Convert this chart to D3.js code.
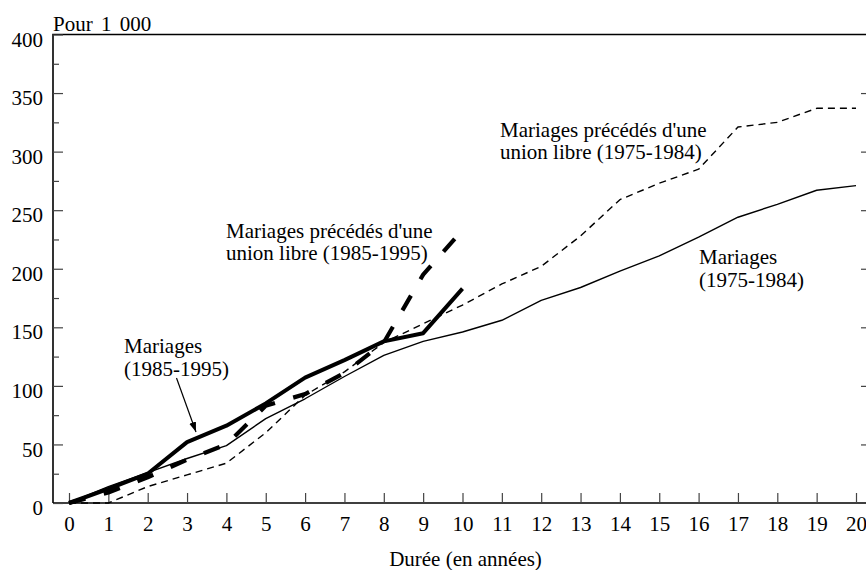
<!DOCTYPE html>
<html>
<head>
<meta charset="utf-8">
<script src="https://cdn.jsdelivr.net/npm/d3@7"></script>
<style>
  body { margin: 0; background: #fff; }
  svg { display: block; }
</style>
</head>
<body>
<svg id="chart" width="866" height="570"></svg>
<script>
// durations (years)
const durees = d3.range(0, 21);
const dureesRecent = d3.range(0, 11);

// values per 1 000
const mariages7584 = [0, 14, 26, 38, 49, 72, 89, 108, 126, 138, 146, 156, 173, 184, 198, 211, 227, 244, 255, 267, 271];
const unionLibre7584 = [0, 0, 14, 24, 34, 60, 92, 112, 137, 153, 169, 187, 202, 228, 259, 273, 285, 321, 325, 337, 337];
const mariages8595 = [0, 12, 25, 52, 66, 85, 107, 122, 138, 145, 183];
const unionLibre8595 = [0, 9, 22, 37, 50, 83, 93, 111, 137, 195, 233];

const yMajor = [0, 50, 100, 150, 200, 250, 300, 350, 400];
const yMinor = [25, 75, 125, 175, 225, 275, 325, 375];

let svg = d3.select("svg#chart");
let fontsize = 21;
let serif = "Liberation Serif, DejaVu Serif, serif";

let plotLeft = 53, plotRight = 867, plotTop = 34.5, plotBottom = 503;

let xScale = d3.scaleLinear().domain([0, 20]).range([69, 856]);
let yScale = d3.scaleLinear().domain([0, 400]).range([plotBottom, plotTop]);

//#region frame and axes

svg.append("path")
    .attr("d", "M" + plotLeft + "," + plotBottom + "V" + plotTop + "H" + plotRight + "V" + plotBottom + "H" + plotLeft)
    .attr("fill", "none")
    .attr("stroke", "#000")
    .attr("stroke-width", 1.6);

let xAxis = d3.axisBottom(xScale)
    .tickValues(durees)
    .tickFormat(d3.format("d"))
    .tickSizeInner(-10)
    .tickSizeOuter(0)
    .tickPadding(13);

let gx = svg.append("g")
    .attr("transform", "translate(0," + plotBottom + ")")
    .call(xAxis)
    .attr("font-family", serif)
    .attr("font-size", fontsize);
gx.select(".domain").remove();
gx.selectAll("line").attr("stroke", "#444").attr("stroke-width", 1.2);

let yAxis = d3.axisLeft(yScale)
    .tickValues(yMajor)
    .tickFormat(d3.format("d"))
    .tickSizeInner(-10)
    .tickSizeOuter(0)
    .tickPadding(10);

let gy = svg.append("g")
    .attr("transform", "translate(" + plotLeft + ",0)")
    .call(yAxis)
    .attr("font-family", serif)
    .attr("font-size", fontsize);
gy.select(".domain").remove();
gy.selectAll("line").attr("stroke", "#444").attr("stroke-width", 1.2);
gy.selectAll("text").attr("dy", "0.55em");

let gyMinor = svg.append("g")
    .attr("transform", "translate(" + plotLeft + ",0)")
    .call(d3.axisLeft(yScale).tickValues(yMinor).tickFormat("").tickSizeInner(-6).tickSizeOuter(0));
gyMinor.select(".domain").remove();
gyMinor.selectAll("line").attr("stroke", "#444").attr("stroke-width", 1.2);

// right side ticks
let gyRight = svg.append("g")
    .attr("transform", "translate(" + plotRight + ",0)")
    .call(d3.axisRight(yScale).tickValues(yMajor.slice(1, -1)).tickFormat("").tickSizeInner(-6).tickSizeOuter(0));
gyRight.select(".domain").remove();
gyRight.selectAll("line").attr("stroke", "#444").attr("stroke-width", 1.2);

svg.append("text")
    .attr("x", plotLeft)
    .attr("y", 31)
    .attr("font-family", serif)
    .attr("font-size", fontsize)
    .attr("word-spacing", "3px")
    .text("Pour 1 000");

svg.append("text")
    .attr("x", (xScale(0) + xScale(20)) / 2 + 3)
    .attr("y", 566)
    .attr("text-anchor", "middle")
    .attr("font-family", serif)
    .attr("font-size", fontsize)
    .text("Durée (en années)");

//#endregion

//#region lines

let line = d3.line()
    .x(function(d){ return xScale(d[0]); })
    .y(function(d){ return yScale(d[1]); });

function addLine(xs, ys, width, dash){
    svg.append("path")
        .datum(xs.map(function(x, i){ return [x, ys[i]]; }))
        .attr("d", line)
        .attr("fill", "none")
        .attr("stroke", "#000")
        .attr("stroke-width", width)
        .attr("stroke-linejoin", "round")
        .attr("stroke-dasharray", dash);
}

addLine(durees, mariages7584, 1.4, null);
addLine(durees, unionLibre7584, 1.4, "7,5");
addLine(dureesRecent, mariages8595, 4, null);
addLine(dureesRecent, unionLibre8595, 4.2, "17,19");

//#endregion

//#region labels

function addLabel(x, y, lines, gap){
    let t = svg.append("text")
        .attr("x", x)
        .attr("y", y)
        .attr("font-family", serif)
        .attr("font-size", fontsize);
    lines.forEach(function(s, i){
        t.append("tspan").attr("x", x).attr("dy", i == 0 ? 0 : gap).text(s);
    });
}

addLabel(124, 352.7, ["Mariages", "(1985-1995)"], 23);
addLabel(226, 237.5, ["Mariages précédés d'une", "union libre (1985-1995)"], 22);
addLabel(500, 136.7, ["Mariages précédés d'une", "union libre (1975-1984)"], 22);
addLabel(699, 264, ["Mariages", "(1975-1984)"], 23);

svg.append("defs").append("marker")
    .attr("id", "arrow")
    .attr("viewBox", "0 0 10 10")
    .attr("refX", 10)
    .attr("refY", 5)
    .attr("markerWidth", 10)
    .attr("markerHeight", 10)
    .attr("markerUnits", "userSpaceOnUse")
    .attr("orient", "auto")
    .append("path")
    .attr("d", "M0,1.5L10,5L0,8.5Z")
    .attr("fill", "#000");

svg.append("line")
    .attr("x1", 176.5)
    .attr("y1", 378)
    .attr("x2", 196)
    .attr("y2", 432)
    .attr("stroke", "#000")
    .attr("stroke-width", 1.2)
    .attr("marker-end", "url(#arrow)");

//#endregion
</script>
</body>
</html>
